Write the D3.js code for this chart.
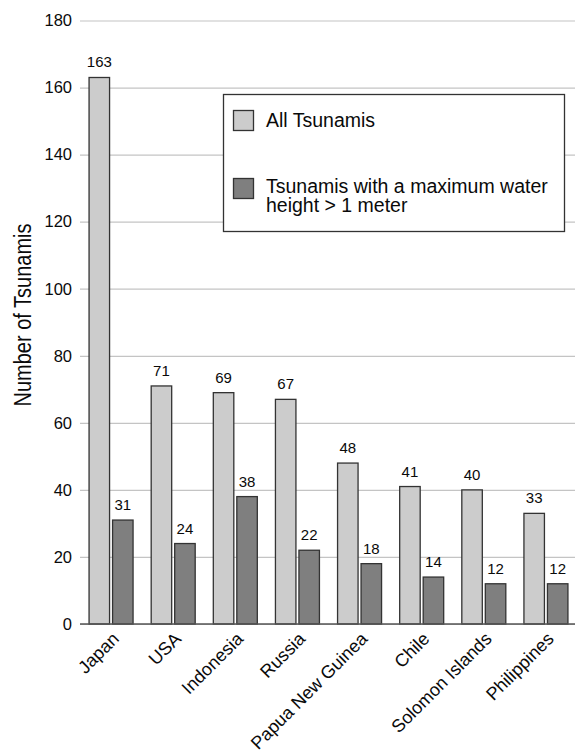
<!DOCTYPE html>
<html>
<head>
<meta charset="utf-8">
<script src="https://cdn.jsdelivr.net/npm/d3@7"></script>
<style>
  html, body { margin: 0; padding: 0; background: #fff; }
  svg { display: block; }
  svg text { font-family: "Liberation Sans", Arial, sans-serif; }
</style>
</head>
<body>
<svg id="chart" width="575" height="751"></svg>
<script>
// Countries with the most recorded tsunamis
const countries = ["Japan", "USA", "Indonesia", "Russia", "Papua New Guinea", "Chile", "Solomon Islands", "Philippines"];
const allTsunamis = [163, 71, 69, 67, 48, 41, 40, 33];
const bigTsunamis = [31, 24, 38, 22, 18, 14, 12, 12];
const yTicks = [0, 20, 40, 60, 80, 100, 120, 140, 160, 180];
const seriesNames = ["All Tsunamis", "Tsunamis with a maximum water height > 1 meter"];

const svg = d3.select("#chart");
const plotLeft = 80, plotRight = 577, plotTop = 20.5, plotBottom = 624;

const x = d3.scaleBand().domain(countries).range([plotLeft, plotRight]).paddingInner(0).paddingOuter(0);
const y = d3.scaleLinear().domain([0, 180]).range([plotBottom, plotTop]);

const fillLight = "#cccccc", fillDark = "#7f7f7f", edge = "#333333", ink = "#0a0a0a";
const barW = 20.5, gap = 3;

// horizontal grid lines with tick labels
const yAxis = d3.axisLeft(y).tickValues(yTicks).tickSize(-(575 - plotLeft)).tickPadding(8);
const gy = svg.append("g").attr("transform", `translate(${plotLeft},0)`).call(yAxis)
  .attr("font-family", null).attr("font-size", null);
gy.select(".domain").remove();
gy.selectAll(".tick line").attr("stroke", "#c4c4c4").attr("stroke-width", 1.2);
gy.selectAll(".tick text").attr("font-size", 16.5).attr("fill", ink).attr("x", -8);

// axis title
svg.append("text")
  .attr("transform", `translate(31,315) rotate(-90) scale(1,1.15)`)
  .attr("text-anchor", "middle")
  .attr("font-size", 20)
  .attr("fill", ink)
  .text("Number of Tsunamis");

const data = countries.map((c, i) => ({ c, all: allTsunamis[i], big: bigTsunamis[i] }));
const cx = d => x(d.c) + x.bandwidth() / 2;

const groups = svg.append("g").selectAll("g").data(data).join("g");

groups.append("rect")
  .attr("x", d => cx(d) - gap / 2 - barW)
  .attr("y", d => y(d.all))
  .attr("width", barW)
  .attr("height", d => y(0) - y(d.all))
  .attr("fill", fillLight).attr("stroke", edge).attr("stroke-width", 1.3);

groups.append("rect")
  .attr("x", d => cx(d) + gap / 2)
  .attr("y", d => y(d.big))
  .attr("width", barW)
  .attr("height", d => y(0) - y(d.big))
  .attr("fill", fillDark).attr("stroke", edge).attr("stroke-width", 1.3);

groups.append("text")
  .attr("x", d => cx(d) - gap / 2 - barW / 2)
  .attr("y", d => y(d.all) - 10)
  .attr("text-anchor", "middle").attr("font-size", 15).attr("fill", ink)
  .text(d => d.all);

groups.append("text")
  .attr("x", d => cx(d) + gap / 2 + barW / 2)
  .attr("y", d => y(d.big) - 10)
  .attr("text-anchor", "middle").attr("font-size", 15).attr("fill", ink)
  .text(d => d.big);

// baseline
svg.append("line")
  .attr("x1", plotLeft).attr("x2", 575)
  .attr("y1", y(0)).attr("y2", y(0))
  .attr("stroke", "#555").attr("stroke-width", 1.3);

// category labels, rotated
const xAxis = d3.axisBottom(x).tickSize(0).tickPadding(0);
const gx = svg.append("g").attr("transform", `translate(0,${plotBottom})`).call(xAxis)
  .attr("font-family", null).attr("font-size", null);
gx.select(".domain").remove();
gx.selectAll(".tick text")
  .attr("font-size", 18).attr("fill", ink)
  .attr("text-anchor", "end")
  .attr("y", 0).attr("dy", 0)
  .attr("transform", "translate(9,16) rotate(-45)");

// legend
const lg = svg.append("g");
lg.append("rect").attr("x", 223.5).attr("y", 94.5).attr("width", 341).attr("height", 137)
  .attr("fill", "#fff").attr("stroke", "#333").attr("stroke-width", 1.3);
lg.append("rect").attr("x", 233.5).attr("y", 110.5).attr("width", 20).attr("height", 20)
  .attr("fill", fillLight).attr("stroke", edge).attr("stroke-width", 1.3);
lg.append("rect").attr("x", 233.5).attr("y", 178.5).attr("width", 20).attr("height", 20)
  .attr("fill", fillDark).attr("stroke", edge).attr("stroke-width", 1.3);
lg.append("text").attr("x", 266).attr("y", 127).attr("font-size", 19.5).attr("fill", ink)
  .text(seriesNames[0]);
const t2 = lg.append("text").attr("x", 266).attr("y", 193).attr("font-size", 19.5).attr("fill", ink);
t2.append("tspan").attr("x", 266).text("Tsunamis with a maximum water");
t2.append("tspan").attr("x", 266).attr("dy", 19).text("height > 1 meter");
</script>
</body>
</html>
